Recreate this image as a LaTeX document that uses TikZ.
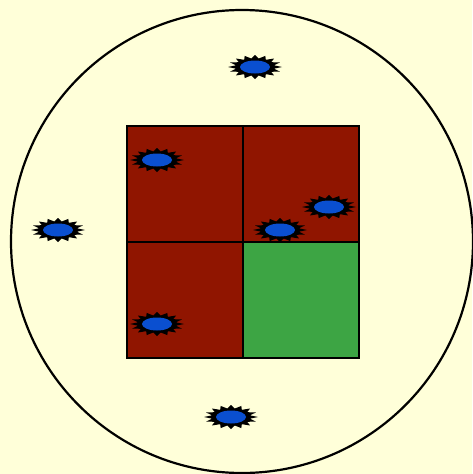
\documentclass[tikz,border=0pt]{standalone}
\usetikzlibrary{calc}

\definecolor{cream}{HTML}{FFFFD9}
\definecolor{cellred}{HTML}{901500}
\definecolor{cellgreen}{HTML}{3DA544}
\definecolor{sparkblue}{HTML}{0A4FD0}

\tikzset{
  pics/spark/.style={code={
    \begin{scope}[xscale=27, yscale=12]
      \fill[black] (0:1) \foreach \k in {1,...,31} {-- ({\k*360/32}:{ifthenelse(mod(\k,2)==0,1,0.72)})} -- cycle;
    \end{scope}
    \fill[sparkblue] (0,0) ellipse[x radius=15, y radius=6.5];
  }}
}

\begin{document}
\begin{tikzpicture}[x=1pt, y=-1pt]
\def\cell{116}

\fill[cream] (0,0) rectangle (472,474);
\useasboundingbox (0,0) rectangle (472,474);

\coordinate (O) at (242,241.5);
\coordinate (A) at (127,126);
\coordinate (B) at ($(A)+(\cell,0)$);
\coordinate (C) at ($(A)+(2*\cell,0)$);
\coordinate (D) at ($(A)+(0,\cell)$);
\coordinate (E) at ($(A)+(\cell,\cell)$);
\coordinate (F) at ($(A)+(2*\cell,\cell)$);
\coordinate (G) at ($(A)+(0,2*\cell)$);
\coordinate (H) at ($(A)+(\cell,2*\cell)$);
\coordinate (I) at ($(A)+(2*\cell,2*\cell)$);

% pond
\draw[line width=2.2pt, fill=cream] (O) ellipse[x radius=231, y radius=231.5];

% grid of four cells
\fill[cellred] (A) rectangle (E);
\fill[cellred] (B) rectangle (F);
\fill[cellred] (D) rectangle (H);
\fill[cellgreen] (E) rectangle (I);
\draw[line width=1.6pt] (A) rectangle (I);
\draw[line width=1.6pt] (B) -- (H);
\draw[line width=1.6pt] (D) -- (F);

% sparks
\pic at (255,67) {spark};
\pic at (157,160) {spark};
\pic at (58,230) {spark};
\pic at (329,207) {spark};
\pic at (280,230) {spark};
\pic at (157,324) {spark};
\pic at (231,417) {spark};
\end{tikzpicture}
\end{document}
